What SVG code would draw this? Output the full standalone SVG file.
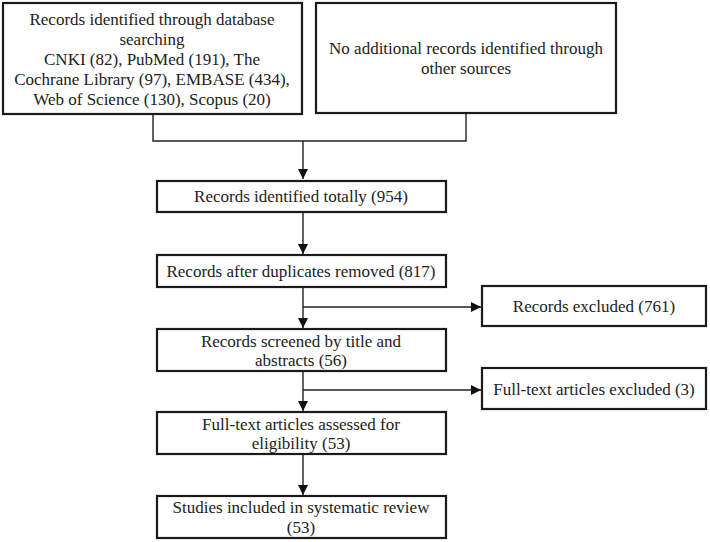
<svg xmlns="http://www.w3.org/2000/svg" width="710" height="542" viewBox="0 0 710 542">
<defs>
<marker id="arr" viewBox="0 0 10 10" refX="10" refY="5" markerWidth="10" markerHeight="10" markerUnits="userSpaceOnUse" orient="auto">
<path d="M0,0 L10,5 L0,10 Z" fill="#111"/>
</marker>
<style>
.box{fill:#fff;stroke:#1a1a1a;stroke-width:2.2}
.t{font-family:"Liberation Serif","Times New Roman",serif;font-size:17px;fill:#222;text-anchor:middle}
.c{fill:none;stroke:#222;stroke-width:1.4}
</style>
</defs>
<rect width="710" height="542" fill="#fff"/>
<g id="connectors">
<polyline class="c" points="153,114 153,141 466,141 466,113"/>
<line class="c" x1="303" y1="141" x2="303" y2="179" marker-end="url(#arr)"/>
<line class="c" x1="303" y1="212" x2="303" y2="254" marker-end="url(#arr)"/>
<line class="c" x1="303" y1="287" x2="303" y2="328" marker-end="url(#arr)"/>
<line class="c" x1="303" y1="307" x2="481" y2="307" marker-end="url(#arr)"/>
<line class="c" x1="303" y1="371" x2="303" y2="411" marker-end="url(#arr)"/>
<line class="c" x1="303" y1="390" x2="481" y2="390" marker-end="url(#arr)"/>
<line class="c" x1="303" y1="454" x2="303" y2="495" marker-end="url(#arr)"/>
</g>
<g id="n1">
<rect class="box" x="3" y="3" width="299" height="111"/>
<text class="t" x="152" y="25">Records identified through database</text>
<text class="t" x="152" y="45">searching</text>
<text class="t" x="152" y="65">CNKI (82), PubMed (191), The</text>
<text class="t" x="152" y="85">Cochrane Library (97), EMBASE (434),</text>
<text class="t" x="152" y="105">Web of Science (130), Scopus (20)</text>
</g>
<g id="n2">
<rect class="box" x="316" y="3" width="300" height="110"/>
<text class="t" x="466" y="54">No additional records identified through</text>
<text class="t" x="466" y="74">other sources</text>
</g>
<g id="n3">
<rect class="box" x="157" y="181" width="289" height="31"/>
<text class="t" x="301" y="202">Records identified totally (954)</text>
</g>
<g id="n4">
<rect class="box" x="157" y="255" width="289" height="32"/>
<text class="t" x="301" y="277">Records after duplicates removed (817)</text>
</g>
<g id="n5">
<rect class="box" x="482" y="286" width="224" height="40"/>
<text class="t" x="594" y="312">Records excluded (761)</text>
</g>
<g id="n6">
<rect class="box" x="157" y="329" width="289" height="42"/>
<text class="t" x="301" y="347">Records screened by title and</text>
<text class="t" x="301" y="366">abstracts (56)</text>
</g>
<g id="n7">
<rect class="box" x="482" y="368" width="224" height="41"/>
<text class="t" x="594" y="395">Full-text articles excluded (3)</text>
</g>
<g id="n8">
<rect class="box" x="157" y="412" width="289" height="42"/>
<text class="t" x="301" y="430">Full-text articles assessed for</text>
<text class="t" x="301" y="449">eligibility (53)</text>
</g>
<g id="n9">
<rect class="box" x="157" y="496" width="289" height="42"/>
<text class="t" x="301" y="513">Studies included in systematic review</text>
<text class="t" x="301" y="533">(53)</text>
</g>
</svg>
